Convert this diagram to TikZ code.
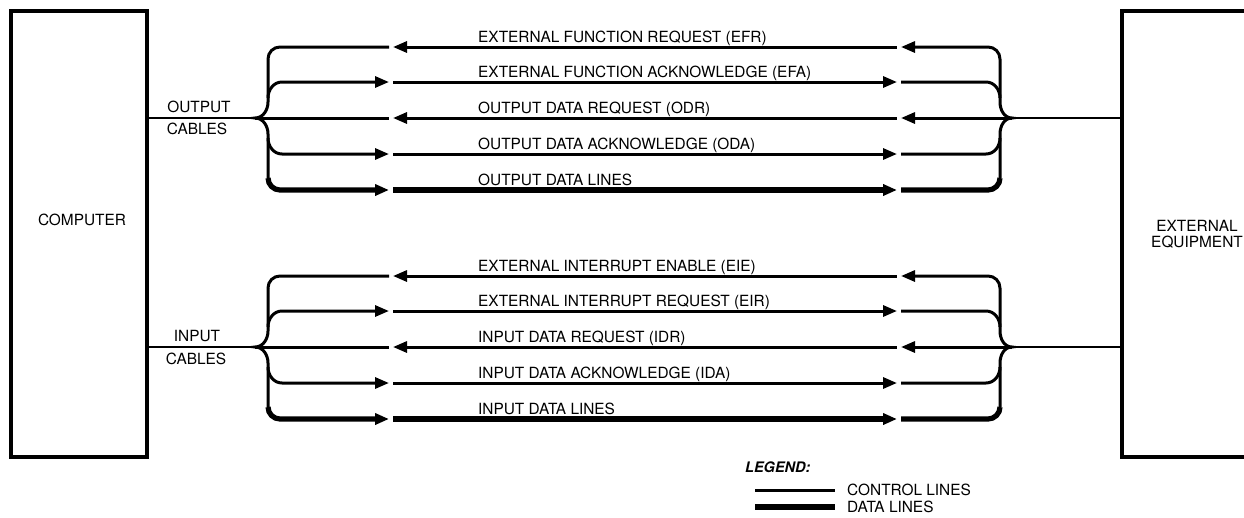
\documentclass[tikz,border=0pt]{standalone}
\usepackage{fontspec}
\setmainfont{TeX Gyre Heros}
\usepackage{tikz}
\usetikzlibrary{arrows.meta, positioning}
\tikzset{
  box/.style={draw, line width=3.4pt, inner sep=0pt},
  trunk/.style={line width=2.4pt},
  ctrl/.style={line width=3pt},
  data/.style={line width=5.2pt},
  fwd/.style={-{Triangle[length=14pt,width=11pt]}},
  bwd/.style={{Triangle[length=14pt,width=11pt]}-},
  lbl/.style={inner sep=0pt, anchor=base west},
}
\newcommand{\cablebundle}[7]{%
  \begin{scope}[yshift=-#2pt]
    \coordinate (#1L) at (255,0);
    \coordinate (#1R) at (1012,0);
    % braces
    \draw[ctrl] (268,-59) -- (268,-16) to[out=-90,in=0] (#1L)
      to[out=0,in=90] (268,16) -- (268,60);
    \draw[ctrl] (1000,-59) -- (1000,-16) to[out=-90,in=180] (#1R)
      to[out=180,in=90] (1000,16) -- (1000,60);
    % line 1
    \draw[ctrl] (268,-59) to[out=90,in=180] (280,-71) -- (389,-71);
    \draw[ctrl,bwd] (393,-71) -- (897,-71);
    \draw[ctrl,bwd] (901,-71) -- (988,-71) to[out=0,in=90] (1000,-59);
    % line 2
    \draw[ctrl,fwd] (268,-20) to[out=90,in=180] (282,-36) -- (389,-36);
    \draw[ctrl,fwd] (393,-36) -- (897,-36);
    \draw[ctrl] (901,-36) -- (986,-36) to[out=0,in=90] (1000,-20);
    % line 3
    \draw[ctrl] (#1L) -- (389,0);
    \draw[ctrl,bwd] (393,0) -- (897,0);
    \draw[ctrl,bwd] (901,0) -- (#1R);
    % line 4
    \draw[ctrl,fwd] (268,20) to[out=-90,in=180] (282,36) -- (389,36);
    \draw[ctrl,fwd] (393,36) -- (897,36);
    \draw[ctrl] (901,36) -- (986,36) to[out=0,in=-90] (1000,20);
    % line 5 (data)
    \draw[data,fwd] (268,60) to[out=-90,in=180] (280,72) -- (389,72);
    \draw[data,fwd] (393,72) -- (897,72);
    \draw[data] (901,72) -- (988,72) to[out=0,in=-90] (1000,60);
    % labels
    \node[lbl] (#1a) at (478,-76) {#3};
    \node[lbl] (#1b) at (478,-41) {#4};
    \node[lbl] (#1c) at (478,-5) {#5};
    \node[lbl] (#1d) at (478,31) {#6};
    \node[lbl] (#1e) at (478,67) {#7};
  \end{scope}}

\begin{document}
\begin{tikzpicture}[x=1pt, y=-1pt, font=\fontsize{15.4}{16}\selectfont]
  \useasboundingbox (0,0) rectangle (1244,517);
  \clip (0,0) rectangle (1244,517);
  \node (comp) [box, minimum width=136pt, minimum height=446pt] at (79,234) {};
  \node (comptxt) at (82,220) {COMPUTER};
  \node (equip) [box, minimum width=150pt, minimum height=446pt, align=center]
    at (1197,234) {EXTERNAL\\EQUIPMENT};

  \cablebundle{out}{118}{EXTERNAL FUNCTION REQUEST (EFR)}
    {EXTERNAL FUNCTION ACKNOWLEDGE (EFA)}{OUTPUT DATA REQUEST (ODR)}
    {OUTPUT DATA ACKNOWLEDGE (ODA)}{OUTPUT DATA LINES}
  \cablebundle{in}{347}{EXTERNAL INTERRUPT ENABLE (EIE)}
    {EXTERNAL INTERRUPT REQUEST (EIR)}{INPUT DATA REQUEST (IDR)}
    {INPUT DATA ACKNOWLEDGE (IDA)}{INPUT DATA LINES}

  \draw[trunk] (comp.east |- outL) -- (outL);
  \draw[trunk] (outR) -- (outR -| equip.west);
  \draw[trunk] (comp.east |- inL) -- (inL);
  \draw[trunk] (inR) -- (inR -| equip.west);
  \node (outtop) at (199,107) {OUTPUT};
  \node (outbot) at (197,129) {CABLES};
  \node (intop) at (197,336) {INPUT};
  \node (inbot) at (196,359) {CABLES};

  % legend
  \node (legend) [anchor=west, inner sep=0pt, font=\fontsize{14.5}{16}\selectfont\bfseries\itshape]
    at (745,467) {LEGEND:};
  \coordinate (ctrlA) at (755,490);
  \coordinate (ctrlB) at (835,490);
  \coordinate (dataA) at (755,507);
  \coordinate (dataB) at (835,507);
  \draw[ctrl] (ctrlA) -- (ctrlB);
  \draw[data] (dataA) -- (dataB);
  \node (ctrltxt) [right=12pt of ctrlB, inner sep=0pt] {CONTROL LINES};
  \node (datatxt) [right=12pt of dataB, inner sep=0pt] {DATA LINES};
\end{tikzpicture}
\end{document}
